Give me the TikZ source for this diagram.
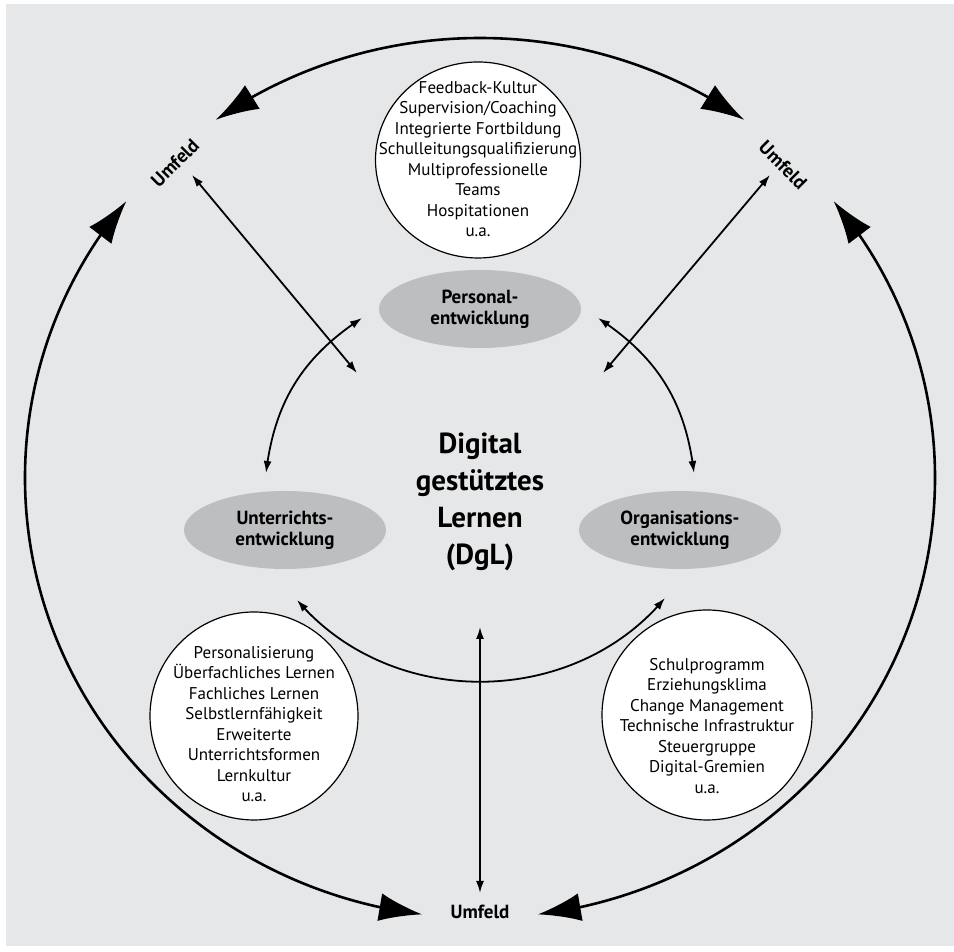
\documentclass[tikz,border=0pt]{standalone}
\usepackage{fontspec}
\setmainfont{PT Sans}
\usetikzlibrary{arrows.meta,shapes.geometric,calc,bending}
\definecolor{bggray}{HTML}{E6E7E8}
\definecolor{ovalgray}{HTML}{BDBEC0}
\begin{document}
\begin{tikzpicture}[x=1pt,y=1pt,
 bigarr/.style={line width=2.6pt, {Latex[length=43pt,width=28pt]}-{Latex[length=43pt,width=28pt]}},
 smallarr/.style={line width=1.8pt, {Latex[length=12pt,width=8pt]}-{Latex[length=12pt,width=8pt]}},
 infocirc/.style={ellipse, draw, fill=white, line width=1.2pt, inner sep=0pt},
 infotext/.style={align=center, inner sep=0pt, font=\fontsize{17}{20.5}\selectfont},
 oval/.style={ellipse, fill=ovalgray, minimum width=202pt, minimum height=78pt, inner sep=0pt, align=center, font=\bfseries\fontsize{19}{21}\selectfont},
 umf/.style={inner sep=0pt, font=\bfseries\fontsize{19}{21}\selectfont},
 titletext/.style={align=center, inner sep=0pt, font=\bfseries\fontsize{29}{37}\selectfont}]

\useasboundingbox (0,0) rectangle (954,952);
\fill[bggray] (6,6) rectangle (954,948);

% big outer arcs
\coordinate (E) at (480,474);
\coordinate (atop) at ($(E)+(125.5:455 and 440)$);
\coordinate (aleft) at ($(E)+(141:455 and 440)$);
\coordinate (aright) at ($(E)+(39:455 and 440)$);
\draw[bigarr] (atop) arc[start angle=125.5, end angle=54.5, x radius=455, y radius=440];
\draw[bigarr] (aleft) arc[start angle=141, end angle=262.7, x radius=455, y radius=440];
\draw[bigarr] (aright) arc[start angle=39, end angle=-82.7, x radius=455, y radius=440];

% small straight arrows
\coordinate (d1a) at (192,777); \coordinate (d1b) at (357,579);
\coordinate (d2a) at (770,777); \coordinate (d2b) at (603,579);
\coordinate (va) at (480,325); \coordinate (vb) at (480,59);
\draw[smallarr] (d1a) -- (d1b);
\draw[smallarr] (d2a) -- (d2b);
\draw[smallarr] (va) -- (vb);

% curved arrows between ovals
\coordinate (pu1) at (362,634); \coordinate (pu2) at (266,479);
\coordinate (po1) at (598,634); \coordinate (po2) at (694,479);
\coordinate (uo1) at (297,352); \coordinate (uo2) at (665,354);
\draw[smallarr] (pu1) to[bend right=25] (pu2);
\draw[smallarr] (po1) to[bend left=25] (po2);
\draw[smallarr] (uo1) to[bend right=50] (uo2);

% info circles
\node[infocirc, minimum width=205pt, minimum height=196pt] (cp) at (478,792) {};
\node[infotext] (tp) at (478,793) {Feedback-Kultur\\Supervision/Coaching\\Integrierte Fortbildung\\Schulleitungsqualifizierung\\Multiprofessionelle\\Teams\\Hospitationen\\u.a.};
\node[infocirc, minimum width=208pt, minimum height=208pt] (cu) at (254,236) {};
\node[infotext] (tu) at (254,228) {Personalisierung\\Überfachliches Lernen\\Fachliches Lernen\\Selbstlernfähigkeit\\Erweiterte\\Unterrichtsformen\\Lernkultur\\u.a.};
\node[infocirc, minimum width=210pt, minimum height=210pt] (co) at (707,237) {};
\node[infotext] (to) at (707,226) {Schulprogramm\\Erziehungsklima\\Change Management\\Technische Infrastruktur\\Steuergruppe\\Digital-Gremien\\u.a.};

% ovals
\node[oval] (pe) at (480,643) {Personal-\\entwicklung};
\node[oval] (ue) at (285,422) {Unterrichts-\\entwicklung};
\node[oval] (oe) at (680,422) {Organisations-\\entwicklung};

% title
\node[titletext] (dgl) at (480,450) {Digital\\gestütztes\\Lernen\\(DgL)};

% Umfeld labels
\node[umf, rotate=45] (u1) at (175,789) {Umfeld};
\node[umf, rotate=-45] (u2) at (783,787) {Umfeld};
\node[umf] (u3) at (480,40) {Umfeld};
\end{tikzpicture}
\end{document}
